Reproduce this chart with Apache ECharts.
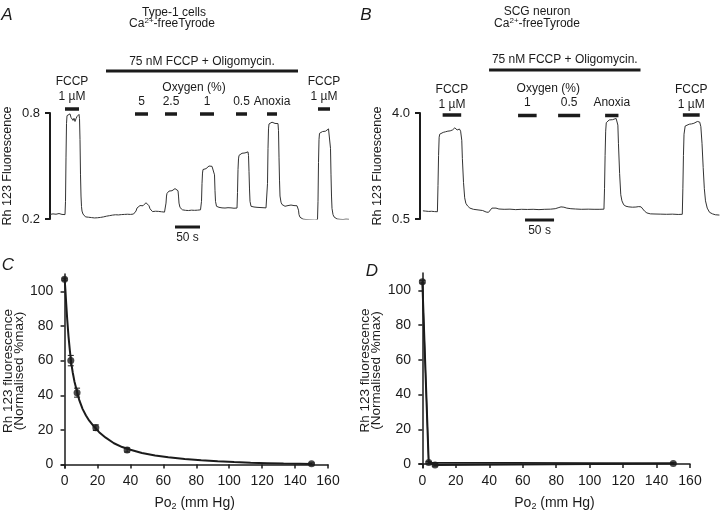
<!DOCTYPE html>
<html><head><meta charset="utf-8">
<script src="https://cdn.jsdelivr.net/npm/echarts@6/dist/echarts.min.js"></script>
<style>html,body{margin:0;padding:0;background:#fff}#c{width:720px;height:512px}</style>
</head><body><div id="c"></div>
<script>
// ---------- Panel A : Type-1 cells trace (time s, Rh123) ----------
const traceA = [[0,0.226],[3,0.222],[6,0.229],[9,0.221],[12,0.227],[15,0.224],[18,0.231],[21,0.222],[24,0.226],[27,0.219],[30,0.225],
[31,0.30],[32,0.55],[33,0.74],[34,0.785],[36,0.792],[38,0.78],[40,0.795],[42,0.775],[44,0.765],[46,0.758],[48,0.77],[50,0.752],[52,0.768],[54,0.78],[56,0.776],[58,0.792],[59,0.77],
[60,0.65],[61,0.45],[62,0.33],[63,0.27],[64,0.245],[66,0.228],[68,0.22],
[71,0.212],[74,0.205],[77,0.21],[80,0.203],[83,0.208],[86,0.2],[89,0.206],[92,0.198],[95,0.207],[98,0.201],[101,0.209],[104,0.204],[107,0.212],[110,0.208],[113,0.216],[116,0.212],[119,0.219],[122,0.215],[125,0.222],[128,0.218],[131,0.224],[134,0.219],[137,0.223],[140,0.218],[143,0.225],[146,0.221],[149,0.226],[152,0.22],[155,0.227],[158,0.223],[161,0.226],[164,0.222],[167,0.228],[170,0.232],
[172,0.245],[174,0.262],[176,0.27],[178,0.268],[180,0.276],[182,0.272],[184,0.279],[186,0.275],[188,0.285],[190,0.28],[192,0.292],[194,0.284],[196,0.289],[198,0.275],[200,0.258],[202,0.247],[205,0.242],[208,0.238],[211,0.244],[214,0.237],[217,0.243],[220,0.236],[223,0.241],[226,0.237],[229,0.239],[231,0.25],
[232,0.29],[233,0.33],[234,0.345],[236,0.352],[238,0.358],[240,0.355],[242,0.365],[244,0.36],[246,0.368],[248,0.364],[250,0.372],[252,0.367],[254,0.365],[256,0.36],[257,0.33],[258,0.29],[260,0.265],[262,0.255],[265,0.252],[268,0.257],[271,0.249],[274,0.255],[277,0.248],[280,0.256],[283,0.25],[286,0.254],[289,0.249],[292,0.255],[295,0.25],[298,0.256],[301,0.252],
[303,0.30],[304,0.40],[305,0.46],[306,0.48],[308,0.478],[310,0.49],[312,0.485],[314,0.496],[316,0.49],[318,0.5],[320,0.497],[322,0.505],[324,0.498],[326,0.503],[328,0.495],[329,0.45],[330,0.36],[331,0.3],[333,0.272],[335,0.262],[338,0.266],[341,0.258],[344,0.263],[347,0.255],[350,0.262],[353,0.256],[356,0.264],[359,0.257],[362,0.263],[365,0.258],[368,0.261],[371,0.258],[374,0.262],
[375,0.35],[376,0.48],[377,0.54],[378,0.56],[380,0.565],[382,0.56],[384,0.572],[386,0.568],[388,0.578],[390,0.574],[392,0.582],[394,0.576],[396,0.58],[397,0.56],[398,0.47],[399,0.37],[400,0.3],[402,0.272],[405,0.265],[408,0.268],[411,0.26],[414,0.266],[417,0.259],[420,0.265],[423,0.26],[426,0.264],[429,0.258],[432,0.263],[434,0.268],
[435,0.40],[436,0.60],[437,0.71],[438,0.738],[440,0.745],[442,0.74],[444,0.748],[446,0.742],[448,0.747],[450,0.741],[452,0.746],[454,0.744],[456,0.74],[457,0.7],[458,0.55],[459,0.42],[460,0.33],[462,0.295],[464,0.282],[467,0.278],[470,0.272],[473,0.282],[476,0.276],[479,0.287],[482,0.279],[485,0.284],[488,0.276],[491,0.281],[494,0.275],[496,0.27],[497,0.25],[498,0.225],[500,0.21],[503,0.205],[506,0.199],[509,0.204],[512,0.197],[515,0.203],[518,0.196],[521,0.201],[524,0.195],[527,0.2],[530,0.194],[533,0.199],[535,0.197],
[536,0.3],[537,0.52],[538,0.65],[539,0.685],[541,0.69],[543,0.687],[545,0.695],[547,0.692],[549,0.7],[551,0.697],[553,0.703],[555,0.705],[557,0.71],[559,0.716],[560,0.705],[561,0.6],[562,0.45],[563,0.33],[564,0.26],[566,0.225],[568,0.212],[571,0.205],[574,0.2],[577,0.206],[580,0.198],[583,0.204],[586,0.197],[589,0.203],[592,0.199],[595,0.204],[598,0.198]];
const aYTicks = [0.2, 0.8];
const aDrugBar = [[112, 496]];
const aDrugLabel = ['75 nM FCCP + Oligomycin.'];
const aFccpBars = [[30, 58], [536, 560]];
const aFccpLabels = ['FCCP', '1 \u00b5M'];
const aOxyBars = [[170, 196], [230, 254], [300, 328], [372, 394], [434, 454]];
const aOxyLabels = ['5', '2.5', '1', '0.5', 'Anoxia'];
const aOxyHeaderAt = [288];
const aScaleBar = [[250, 300]];
const scaleLabel = '50 s';

// ---------- Panel B : SCG neuron trace ----------
const traceB = [[5,0.77],[10,0.76],[15,0.75],[20,0.755],[25,0.745],[30,0.74],[31,1.6],[32,2.6],[33,3.2],[34,3.3],[36,3.33],[40,3.36],[44,3.38],[48,3.4],[52,3.41],[56,3.44],[58,3.47],[60,3.51],[62,3.46],[64,3.44],[66,3.48],[68,3.47],[70,3.4],[72,3.1],[73,2.5],[75,1.7],[77,1.2],[79,1.02],[82,0.93],[86,0.86],[92,0.82],[100,0.8],[108,0.78],[114,0.73],[118,0.72],[121,0.76],[124,0.86],[127,0.89],[131,0.86],[136,0.83],[145,0.82],[155,0.825],[165,0.81],[175,0.82],[185,0.815],[195,0.82],[205,0.81],[215,0.82],[225,0.825],[233,0.84],[238,0.87],[243,0.9],[248,0.89],[253,0.86],[260,0.84],[268,0.83],[278,0.82],[290,0.825],[300,0.82],[310,0.82],[317,0.825],[318,1.5],[319,2.6],[320,3.4],[321,3.68],[323,3.74],[326,3.77],[329,3.79],[332,3.78],[335,3.81],[338,3.82],[340,3.78],[341,3.6],[342,3.0],[344,2.0],[346,1.3],[348,1.1],[351,0.97],[355,0.92],[360,0.9],[366,0.89],[372,0.895],[377,0.91],[381,0.9],[384,0.85],[387,0.76],[391,0.7],[397,0.67],[405,0.665],[415,0.66],[425,0.655],[435,0.66],[445,0.65],[452,0.655],[453,1.5],[454,2.6],[455,3.3],[457,3.57],[460,3.62],[464,3.63],[468,3.64],[472,3.66],[475,3.67],[478,3.72],[480,3.74],[482,3.7],[484,3.55],[486,3.0],[488,2.2],[490,1.5],[492,1.1],[495,0.86],[499,0.72],[504,0.67],[509,0.64],[516,0.63]];
const bYTicks = [0.5, 4.0];
const bDrugBar = [[119, 380]];
const bFccpBars = [[39, 71], [453, 482]];
const bOxyBars = [[169, 201], [238, 276], [319, 342]];
const bOxyLabels = ['1', '0.5', 'Anoxia'];
const bOxyHeaderAt = [221];
const bScaleBar = [[181, 231]];

// ---------- Panel C : Type-1 cells, Rh123 vs PO2 ----------
const cPo2 = [0, 3.8, 7.6, 19, 38, 150];
const cRh = [107, 60, 41.5, 21.3, 8.4, 0.4];
const cErr = [0.6, 3, 2.6, 1.6, 1.2, 0.5];
const cFit = [[0,108],[0.5,101],[1,93],[1.6,84],[2.4,74],[3.2,66],[4,59],[5,53],[6,48],[7.6,42],[9,37],[11,32],[13,28.3],[15,25.3],[18,21.8],[21,18.7],[25,15.5],[30,12.3],[35,10.1],[40,8.5],[47,6.7],[55,5.2],[63,4.2],[73,3.2],[83,2.5],[93,1.9],[103,1.4],[113,1.05],[123,0.8],[133,0.55],[143,0.4],[150,0.25]];

// ---------- Panel D : SCG neuron, Rh123 vs PO2 ----------
const dPo2 = [0, 3.8, 7.6, 150];
const dRh = [105, 0.8, -0.6, 0.3];
const dErr = [0.8, 0.6, 0.6, 0.5];
const dFit = [[0, 105], [3.8, 0.9], [150, 0.5]];

const poTicks = [0, 20, 40, 60, 80, 100, 120, 140, 160];
const rhTicks = [0, 20, 40, 60, 80, 100];

// ====================================================================
const FONT = '"Liberation Sans", Arial, sans-serif';
const NARROW = '"Liberation Sans Narrow", "Arial Narrow", "Liberation Sans", sans-serif';
const INK = '#1b1b1b';
const chart = echarts.init(document.getElementById('c'), null, {renderer: 'canvas'});

function txt(text, x, y, font) {
  return {type: 'text', style: {text: text, x: x, y: y, align: 'center', verticalAlign: 'middle', font: font || ('12px ' + FONT), fill: INK}};
}
function supTxt(x, y) {
  return {type: 'text', style: {text: '{n|Ca}{s|2+}{n|-freeTyrode}', x: x, y: y, align: 'center', verticalAlign: 'middle', font: '12px ' + FONT, fill: INK,
    rich: {n: {fontSize: 12, fontFamily: FONT, fill: INK}, s: {fontSize: 8, fontFamily: FONT, fill: INK, padding: [0, 0, 7, 0]}}}};
}

// bars with labels stacked above them; anchor y = axis value yRef; offsets in px
function annot(axisIdx, bars, yRef, barDy, labelFn, lineDys, lw) {
  return {
    type: 'custom', xAxisIndex: axisIdx, yAxisIndex: axisIdx, clip: false, silent: true, animation: false, z: 5,
    data: bars.map(b => [b[0], b[1], yRef]),
    encode: {x: [0, 1], y: 2},
    renderItem: function (params, api) {
      const p0 = api.coord([api.value(0), api.value(2)]);
      const p1 = api.coord([api.value(1), api.value(2)]);
      const y = p0[1] + barDy;
      const children = [];
      if (lw > 0) children.push({type: 'line', shape: {x1: p0[0], y1: y, x2: p1[0], y2: y}, style: {stroke: INK, lineWidth: lw}});
      const lines = labelFn(params.dataIndex);
      lines.forEach((s, i) => {
        children.push({type: 'text', style: {text: s, x: (p0[0] + p1[0]) / 2, y: y + lineDys[i], align: 'center', verticalAlign: 'middle', font: '12px ' + FONT, fill: INK}});
      });
      return {type: 'group', children: children};
    }
  };
}

function errBars(axisIdx, xs, ys, es) {
  return {
    type: 'custom', xAxisIndex: axisIdx, yAxisIndex: axisIdx, clip: false, silent: true, animation: false, z: 3,
    data: xs.map((x, i) => [x, ys[i], es[i]]),
    encode: {x: 0, y: 1},
    renderItem: function (params, api) {
      const x = api.value(0), y = api.value(1), e = api.value(2);
      const t = api.coord([x, y + e]), b = api.coord([x, y - e]);
      const w = 3;
      return {type: 'group', children: [
        {type: 'line', shape: {x1: t[0], y1: t[1], x2: b[0], y2: b[1]}, style: {stroke: INK, lineWidth: 1}},
        {type: 'line', shape: {x1: t[0] - w, y1: t[1], x2: t[0] + w, y2: t[1]}, style: {stroke: INK, lineWidth: 1}},
        {type: 'line', shape: {x1: b[0] - w, y1: b[1], x2: b[0] + w, y2: b[1]}, style: {stroke: INK, lineWidth: 1}}
      ]};
    }
  };
}

function traceYAxis(idx, ticks, min, max) {
  return {
    gridIndex: idx, type: 'value', min: min, max: max,
    axisLine: {show: true, lineStyle: {color: INK, width: 2}},
    axisTick: {show: true, customValues: ticks, length: 5, lineStyle: {color: INK, width: 2}},
    axisLabel: {customValues: ticks, margin: 10, formatter: v => v.toFixed(1), color: INK, fontFamily: FONT, fontSize: 13},
    splitLine: {show: false},
    name: 'Rh 123 Fluorescence', nameLocation: 'middle', nameRotate: 90, nameGap: 36,
    nameTextStyle: {color: INK, fontFamily: FONT, fontSize: 12.5}
  };
}
function poXAxis(idx) {
  return {
    gridIndex: idx, type: 'value', min: -2, max: 160,
    axisLine: {show: true, lineStyle: {color: INK, width: 1.5}},
    axisTick: {show: true, customValues: poTicks, length: 4, lineStyle: {color: INK, width: 1.5}},
    axisLabel: {customValues: poTicks, margin: 6, color: INK, fontFamily: NARROW, fontSize: 14},
    splitLine: {show: false},
    name: '{n|Po}{s|2}{n| (mm Hg)}', nameLocation: 'middle', nameGap: 27,
    nameTextStyle: {color: INK, fontFamily: NARROW, fontSize: 14,
      rich: {n: {fontSize: 14, fontFamily: NARROW, color: INK}, s: {fontSize: 9, fontFamily: NARROW, color: INK, padding: [7, 0, 0, 0]}}}
  };
}
function rhYAxis(idx, min) {
  return {
    gridIndex: idx, type: 'value', min: min, max: 110,
    axisLine: {show: true, lineStyle: {color: INK, width: 1.5}},
    axisTick: {show: true, customValues: rhTicks, length: 4, lineStyle: {color: INK, width: 1.5}},
    axisLabel: {customValues: rhTicks, margin: 8, color: INK, fontFamily: NARROW, fontSize: 14},
    splitLine: {show: false},
    name: 'Rh 123 fluorescence\n(Normalised %max)', nameLocation: 'middle', nameRotate: 90, nameGap: 33,
    nameTextStyle: {color: INK, fontFamily: NARROW, fontSize: 13.5, lineHeight: 11}
  };
}

const option = {
  animation: false,
  backgroundColor: '#ffffff',
  grid: [
    {left: 50, top: 113, width: 300, height: 106},
    {left: 420, top: 113, width: 300, height: 106},
    {left: 58, top: 274, width: 270, height: 195},
    {left: 419, top: 273, width: 271, height: 195}
  ],
  xAxis: [
    {gridIndex: 0, type: 'value', min: 0, max: 600, show: false},
    {gridIndex: 1, type: 'value', min: 0, max: 517, show: false},
    poXAxis(2), poXAxis(3)
  ],
  yAxis: [
    traceYAxis(0, aYTicks, 0.2, 0.8),
    traceYAxis(1, bYTicks, 0.5, 4.0),
    rhYAxis(2, -2), rhYAxis(3, -2.3)
  ],
  graphic: [
    txt('A', 7, 15, 'italic 17px ' + FONT),
    txt('B', 366, 15, 'italic 17px ' + FONT),
    txt('C', 8, 265, 'italic 17px ' + FONT),
    txt('D', 372, 271, 'italic 17px ' + FONT),
    txt('Type-1 cells', 174, 13),
    supTxt(172, 24),
    txt('SCG neuron', 537, 12),
    supTxt(537, 24)
  ],
  series: [
    {type: 'line', xAxisIndex: 0, yAxisIndex: 0, data: traceA, showSymbol: false, lineStyle: {color: '#333', width: 1}, silent: true},
    annot(0, aDrugBar, 0.8, -42, i => [aDrugLabel[0]], [-9], 3),
    annot(0, aFccpBars, 0.8, -4, i => aFccpLabels, [-27, -12], 3.5),
    annot(0, aOxyBars, 0.8, 1, i => [aOxyLabels[i]], [-12], 3.5),
    annot(0, aOxyHeaderAt.map(t => [t, t]), 0.8, -25, i => ['Oxygen (%)'], [0], 0),
    annot(0, aScaleBar, 0.2, 8, i => [scaleLabel], [11], 3),

    {type: 'line', xAxisIndex: 1, yAxisIndex: 1, data: traceB, showSymbol: false, lineStyle: {color: '#333', width: 1}, silent: true},
    annot(1, bDrugBar, 4.0, -43, i => [aDrugLabel[0]], [-10], 3),
    annot(1, bFccpBars, 4.0, 2, i => aFccpLabels, [-25, -10], 3.5),
    annot(1, bOxyBars, 4.0, 2.5, i => [bOxyLabels[i]], [-13], 3.5),
    annot(1, bOxyHeaderAt.map(t => [t, t]), 4.0, -24, i => ['Oxygen (%)'], [0], 0),
    annot(1, bScaleBar, 0.5, 1, i => [scaleLabel], [11], 3),

    errBars(2, cPo2, cRh, cErr),
    {type: 'line', xAxisIndex: 2, yAxisIndex: 2, data: cFit, showSymbol: false, lineStyle: {color: INK, width: 2}, silent: true},
    {type: 'scatter', xAxisIndex: 2, yAxisIndex: 2, data: cPo2.map((x, i) => [x, cRh[i]]), symbol: 'circle', symbolSize: 7, itemStyle: {color: INK}, silent: true},

    errBars(3, dPo2, dRh, dErr),
    {type: 'line', xAxisIndex: 3, yAxisIndex: 3, data: dPo2.map((x, i) => [x, dRh[i]]), showSymbol: false, lineStyle: {color: INK, width: 2}, silent: true},
    {type: 'line', xAxisIndex: 3, yAxisIndex: 3, data: dFit, showSymbol: false, lineStyle: {color: INK, width: 1.2}, silent: true},
    {type: 'scatter', xAxisIndex: 3, yAxisIndex: 3, data: dPo2.map((x, i) => [x, dRh[i]]), symbol: 'circle', symbolSize: 7, itemStyle: {color: INK}, silent: true}
  ]
};
chart.setOption(option);
</script>
</body></html>
